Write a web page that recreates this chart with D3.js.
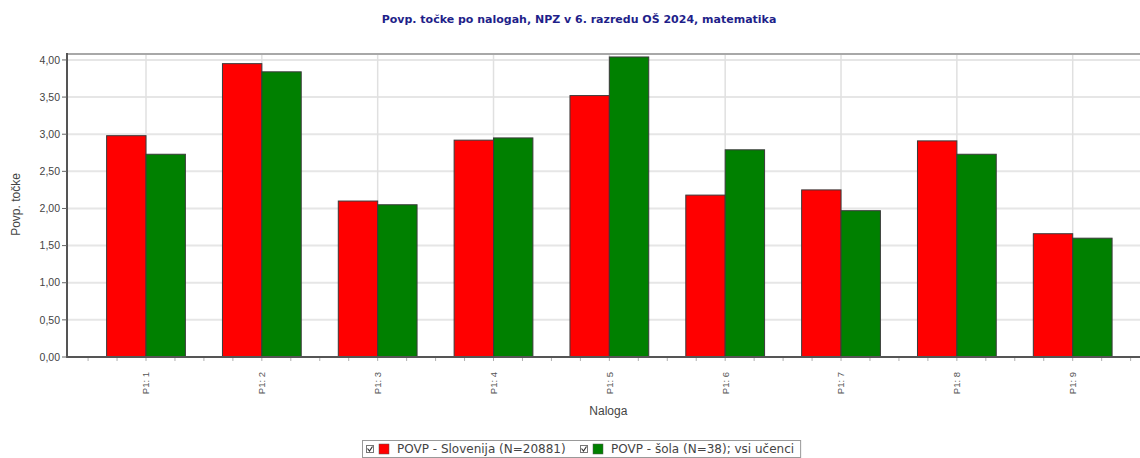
<!DOCTYPE html>
<html>
<head>
<meta charset="utf-8">
<script src="https://cdn.jsdelivr.net/npm/d3@7"></script>
<style>
  html, body { margin: 0; padding: 0; background: #fff; }
  svg { display: block; font-family: "Liberation Sans", Arial, sans-serif; }
</style>
</head>
<body>
<svg id="chart" width="1140" height="458"></svg>
<script>
// ---- data ----
const categories = ["P1: 1", "P1: 2", "P1: 3", "P1: 4", "P1: 5", "P1: 6", "P1: 7", "P1: 8", "P1: 9"];
const slovenija = [2.98, 3.95, 2.10, 2.92, 3.52, 2.18, 2.25, 2.91, 1.66];
const sola = [2.73, 3.84, 2.05, 2.95, 4.04, 2.79, 1.97, 2.73, 1.60];
const seriesNames = ["POVP - Slovenija (N=20881)", "POVP - šola (N=38); vsi učenci"];
const seriesColors = ["#ff0000", "#008000"];
const yTicks = [0, 0.5, 1, 1.5, 2, 2.5, 3, 3.5, 4];
const titleText = "Povp. točke po nalogah, NPZ v 6. razredu OŠ 2024, matematika";
const xTitle = "Naloga";
const yTitle = "Povp. točke";

// ---- layout ----
const W = 1140, H = 458;
const plot = { left: 67, right: 1151.7, top: 54, bottom: 357 };
const svg = d3.select("#chart");

const x = d3.scalePoint().domain(categories).range([plot.left, plot.right]).padding(0.682);
const step = x.step();
const inner = d3.scaleBand().domain([0, 1]).range([-0.34 * step, 0.34 * step]);
const y = d3.scaleLinear().domain([0, 4.08]).range([plot.bottom, plot.top]);

const fmt = v => d3.format(".2f")(v).replace(".", ",");

// clip
svg.append("defs").append("clipPath").attr("id", "clip")
  .append("rect").attr("x", plot.left).attr("y", plot.top - 2)
  .attr("width", W - plot.left).attr("height", plot.bottom - plot.top + 4);

const g = svg.append("g").attr("clip-path", "url(#clip)");

// horizontal grid
g.selectAll("line.hgrid").data(yTicks).join("line")
  .attr("class", "hgrid")
  .attr("x1", plot.left).attr("x2", W)
  .attr("y1", d => y(d)).attr("y2", d => y(d))
  .attr("stroke", "#e6e6e6").attr("stroke-width", 2);

// vertical grid at categories
g.selectAll("line.vgrid").data(categories).join("line")
  .attr("class", "vgrid")
  .attr("x1", d => x(d)).attr("x2", d => x(d))
  .attr("y1", plot.top).attr("y2", plot.bottom)
  .attr("stroke", "#e0e0e0").attr("stroke-width", 1.5);

// bars
const series = [slovenija, sola];
series.forEach((vals, si) => {
  g.selectAll("rect.s" + si).data(vals).join("rect")
    .attr("class", "s" + si)
    .attr("x", (d, i) => x(categories[i]) + inner(si))
    .attr("y", d => y(d))
    .attr("width", inner.bandwidth())
    .attr("height", d => y(0) - y(d))
    .attr("fill", seriesColors[si])
    .attr("stroke", "#3a3a3a").attr("stroke-width", 1);
});

// top border
svg.append("line")
  .attr("x1", plot.left).attr("x2", W)
  .attr("y1", plot.top).attr("y2", plot.top)
  .attr("stroke", "#a8a8a8").attr("stroke-width", 2);

// x minor ticks
const x0 = x(categories[0]);
const tickPos = [];
for (let k = -4; k <= categories.length * 4 + 4; k++) {
  const p = x0 + k * step / 4;
  if (p > plot.left + 2 && p < W) tickPos.push(p);
}
svg.selectAll("line.xtick").data(tickPos).join("line")
  .attr("class", "xtick")
  .attr("x1", d => d).attr("x2", d => d)
  .attr("y1", plot.bottom).attr("y2", plot.bottom + 4)
  .attr("stroke", "#b0b0b0").attr("stroke-width", 1);

// axis lines
svg.append("line")
  .attr("x1", plot.left).attr("x2", plot.left)
  .attr("y1", plot.top - 1).attr("y2", plot.bottom + 1)
  .attr("stroke", "#555").attr("stroke-width", 2);
svg.append("line")
  .attr("x1", plot.left - 1).attr("x2", W)
  .attr("y1", plot.bottom).attr("y2", plot.bottom)
  .attr("stroke", "#555").attr("stroke-width", 2);

svg.selectAll("line.ytick").data(yTicks).join("line")
  .attr("class", "ytick")
  .attr("x1", plot.left - 5).attr("x2", plot.left)
  .attr("y1", d => y(d)).attr("y2", d => y(d))
  .attr("stroke", "#666").attr("stroke-width", 1);

svg.selectAll("text.ylab").data(yTicks).join("text")
  .attr("class", "ylab")
  .attr("x", plot.left - 7).attr("y", d => y(d))
  .attr("dy", "0.35em")
  .attr("text-anchor", "end")
  .attr("font-size", 10.5).attr("fill", "#444")
  .text(fmt);

// x labels rotated
svg.selectAll("text.xlab").data(categories).join("text")
  .attr("class", "xlab")
  .attr("transform", d => `translate(${x(d)},${plot.bottom + 15}) rotate(-90)`)
  .attr("text-anchor", "end")
  .attr("dy", "0.35em")
  .attr("font-size", 9.5).attr("fill", "#555")
  .text(d => d);

// axis titles
svg.append("text")
  .attr("x", (plot.left + plot.right) / 2 - 1).attr("y", 415)
  .attr("text-anchor", "middle")
  .attr("font-size", 12).attr("fill", "#444")
  .text(xTitle);

svg.append("text")
  .attr("transform", `translate(20,${(plot.top + plot.bottom) / 2 - 1}) rotate(-90)`)
  .attr("text-anchor", "middle")
  .attr("font-size", 12).attr("fill", "#444")
  .text(yTitle);

// title
svg.append("text")
  .attr("x", 579).attr("y", 23)
  .attr("text-anchor", "middle")
  .attr("font-family", "DejaVu Sans")
  .attr("font-size", 11).attr("font-weight", "bold").attr("fill", "#1f1f8a")
  .text(titleText);

// legend
const leg = svg.append("g");
const legItems = leg.selectAll("g.item").data(seriesNames).join("g").attr("class", "item");
const legX = [366, 580];
legItems.each(function (d, i) {
  const it = d3.select(this).attr("transform", `translate(${legX[i]},0)`);
  it.append("rect").attr("x", 0.5).attr("y", 445.5).attr("width", 7).attr("height", 7)
    .attr("fill", "#fff").attr("stroke", "#777").attr("stroke-width", 1);
  it.append("path").attr("d", "M1.5,448.5 L3.5,451 L6.5,446.5")
    .attr("fill", "none").attr("stroke", "#333").attr("stroke-width", 1.2);
  it.append("rect").attr("x", 13).attr("y", 444).attr("width", 10).attr("height", 10)
    .attr("fill", seriesColors[i]).attr("stroke", "#555").attr("stroke-width", 0.5);
  it.append("text").attr("x", 31).attr("y", 449).attr("dy", "0.35em")
    .attr("font-family", "DejaVu Sans")
    .attr("font-size", 12).attr("fill", "#444").text(d);
});
const bb = leg.node().getBBox();
leg.insert("rect", ":first-child")
  .attr("x", 362.5).attr("y", 440.5)
  .attr("width", bb.x + bb.width - 362 + 6).attr("height", 17)
  .attr("fill", "#fff").attr("stroke", "#999").attr("stroke-width", 1);
</script>
</body>
</html>
